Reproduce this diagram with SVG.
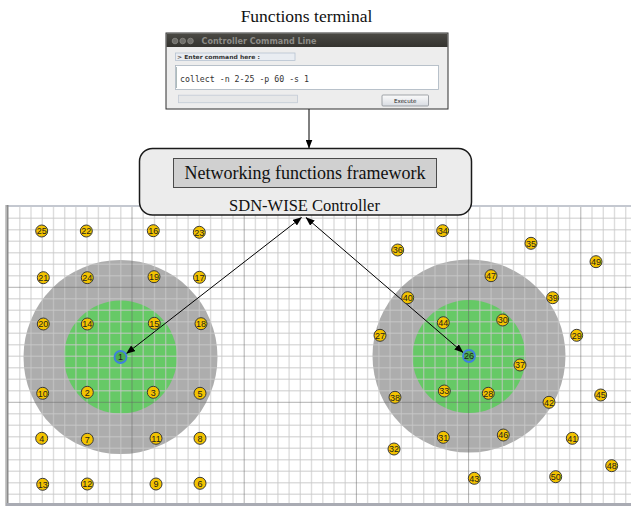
<svg xmlns="http://www.w3.org/2000/svg" width="631" height="508" viewBox="0 0 631 508">
<defs>
<marker id="ah" markerUnits="userSpaceOnUse" markerWidth="9" markerHeight="7" refX="8.5" refY="3.5" orient="auto-start-reverse">
<path d="M0,0 L9,3.5 L0,7 z" fill="#000"/>
</marker>
<linearGradient id="tb" x1="0" y1="0" x2="0" y2="1"><stop offset="0" stop-color="#4a4944"/><stop offset="1" stop-color="#34332f"/></linearGradient>
<linearGradient id="btn" x1="0" y1="0" x2="0" y2="1"><stop offset="0" stop-color="#fbfbfb"/><stop offset="1" stop-color="#d8dce2"/></linearGradient>
</defs>
<style>
.minor{stroke:rgba(200,200,200,0.62);stroke-width:1.4;fill:none}
.major{stroke:rgba(100,100,100,0.5);stroke-width:1;fill:none}
.sn circle{fill:#f3c300;stroke:#3a3a3a;stroke-width:1}
.sn text,.sink text{font-family:"Liberation Sans",Arial,sans-serif;font-size:9px;fill:#1e1e1e;text-anchor:middle}
.sink circle{fill:#4caf50;stroke:#3f7fe0;stroke-width:1.8}
.conn{stroke:#000;stroke-width:1;fill:none}
.serif{font-family:"Liberation Serif","Times New Roman",serif;fill:#111;text-anchor:middle}
</style>
<rect width="631" height="508" fill="#fff"/>

<!-- field frame -->
<g id="field">
<rect x="8" y="206" width="623" height="297" fill="#fff"/>
<circle cx="120.5" cy="357" r="97" fill="#adadad"/>
<circle cx="120.5" cy="357" r="56.5" fill="#66c966"/>
<circle cx="469" cy="356" r="96.5" fill="#adadad"/>
<circle cx="469" cy="356.5" r="56.5" fill="#66c966"/>
<path class="minor" d="M19.8 207V503M31 207V503M42.3 207V503M53.5 207V503M64.7 207V503M75.9 207V503M87.1 207V503M98.4 207V503M109.6 207V503M120.8 207V503M143.2 207V503M154.5 207V503M165.7 207V503M176.9 207V503M188.1 207V503M199.3 207V503M210.6 207V503M221.8 207V503M233 207V503M255.4 207V503M266.7 207V503M277.9 207V503M289.1 207V503M300.3 207V503M311.5 207V503M322.8 207V503M334 207V503M345.2 207V503M367.6 207V503M378.9 207V503M390.1 207V503M401.3 207V503M412.5 207V503M423.7 207V503M435 207V503M446.2 207V503M457.4 207V503M479.8 207V503M491.1 207V503M502.3 207V503M513.5 207V503M524.7 207V503M535.9 207V503M547.2 207V503M558.4 207V503M569.6 207V503M592 207V503M603.3 207V503M614.5 207V503M625.7 207V503"/>
<path class="minor" d="M8 218.3H631M8 229.8H631M8 241.3H631M8 252.8H631M8 264.3H631M8 275.8H631M8 298.8H631M8 310.3H631M8 321.8H631M8 333.3H631M8 344.8H631M8 356.3H631M8 367.8H631M8 379.3H631M8 390.8H631M8 413.8H631M8 425.3H631M8 436.8H631M8 448.3H631M8 459.8H631M8 471.3H631M8 482.8H631M8 494.3H631"/>
<path class="major" d="M132 207V503M244.2 207V503M356.4 207V503M468.6 207V503M580.8 207V503M8 287.3H631M8 402.3H631"/>
<rect x="6" y="205" width="625" height="2" fill="#c4c8d0"/>
<rect x="5" y="205" width="1.5" height="301" fill="#c8c8c8"/>
<rect x="6.5" y="205" width="2" height="301" fill="#8c8c8c"/>
<rect x="6" y="503" width="625" height="3" fill="#a9abb3"/>
</g>

<!-- connectors -->
<g id="connectors">
<line class="conn" x1="309" y1="109" x2="309" y2="148" marker-end="url(#ah)"/>
<line class="conn" x1="301.5" y1="217.5" x2="126.5" y2="353.5" marker-start="url(#ah)" marker-end="url(#ah)"/>
<line class="conn" x1="306" y1="217.5" x2="463" y2="352.5" marker-start="url(#ah)" marker-end="url(#ah)"/>
</g>

<!-- nodes -->
<g id="n1" class="sink"><circle cx="120.5" cy="357" r="6"/><text x="120.5" y="360.3">1</text></g>
<g id="n26" class="sink"><circle cx="469" cy="356" r="6"/><text x="469" y="359.3">26</text></g>
<g id="n25" class="sn"><circle cx="41.7" cy="231" r="6"/><text x="41.7" y="234.3">25</text></g>
<g id="n22" class="sn"><circle cx="86.3" cy="231" r="6"/><text x="86.3" y="234.3">22</text></g>
<g id="n16" class="sn"><circle cx="153.3" cy="230.7" r="6"/><text x="153.3" y="234">16</text></g>
<g id="n23" class="sn"><circle cx="199.3" cy="232.3" r="6"/><text x="199.3" y="235.6">23</text></g>
<g id="n21" class="sn"><circle cx="43.3" cy="277.7" r="6"/><text x="43.3" y="281">21</text></g>
<g id="n24" class="sn"><circle cx="87.3" cy="277.7" r="6"/><text x="87.3" y="281">24</text></g>
<g id="n19" class="sn"><circle cx="154" cy="276.7" r="6"/><text x="154" y="280">19</text></g>
<g id="n17" class="sn"><circle cx="199.5" cy="277.3" r="6"/><text x="199.5" y="280.6">17</text></g>
<g id="n20" class="sn"><circle cx="43.3" cy="324" r="6"/><text x="43.3" y="327.3">20</text></g>
<g id="n14" class="sn"><circle cx="87.3" cy="324" r="6"/><text x="87.3" y="327.3">14</text></g>
<g id="n15" class="sn"><circle cx="154.3" cy="323.3" r="6"/><text x="154.3" y="326.6">15</text></g>
<g id="n18" class="sn"><circle cx="201" cy="323.7" r="6"/><text x="201" y="327">18</text></g>
<g id="n10" class="sn"><circle cx="42.7" cy="393.3" r="6"/><text x="42.7" y="396.6">10</text></g>
<g id="n2" class="sn"><circle cx="87.3" cy="392.3" r="6"/><text x="87.3" y="395.6">2</text></g>
<g id="n3" class="sn"><circle cx="153.3" cy="392.3" r="6"/><text x="153.3" y="395.6">3</text></g>
<g id="n5" class="sn"><circle cx="200" cy="393.3" r="6"/><text x="200" y="396.6">5</text></g>
<g id="n4" class="sn"><circle cx="41.7" cy="438.3" r="6"/><text x="41.7" y="441.6">4</text></g>
<g id="n7" class="sn"><circle cx="87.3" cy="439.3" r="6"/><text x="87.3" y="442.6">7</text></g>
<g id="n11" class="sn"><circle cx="156" cy="438.3" r="6"/><text x="156" y="441.6">11</text></g>
<g id="n8" class="sn"><circle cx="200" cy="438.3" r="6"/><text x="200" y="441.6">8</text></g>
<g id="n13" class="sn"><circle cx="42.7" cy="484.3" r="6"/><text x="42.7" y="487.6">13</text></g>
<g id="n12" class="sn"><circle cx="87.3" cy="484" r="6"/><text x="87.3" y="487.3">12</text></g>
<g id="n9" class="sn"><circle cx="156" cy="484" r="6"/><text x="156" y="487.3">9</text></g>
<g id="n6" class="sn"><circle cx="200" cy="483.3" r="6"/><text x="200" y="486.6">6</text></g>
<g id="n34" class="sn"><circle cx="442.7" cy="230.7" r="6"/><text x="442.7" y="234">34</text></g>
<g id="n36" class="sn"><circle cx="397.7" cy="250" r="6"/><text x="397.7" y="253.3">36</text></g>
<g id="n35" class="sn"><circle cx="531" cy="243.3" r="6"/><text x="531" y="246.6">35</text></g>
<g id="n49" class="sn"><circle cx="596" cy="261.7" r="6"/><text x="596" y="265">49</text></g>
<g id="n47" class="sn"><circle cx="491" cy="275.7" r="6"/><text x="491" y="279">47</text></g>
<g id="n40" class="sn"><circle cx="407.7" cy="297.7" r="6"/><text x="407.7" y="301">40</text></g>
<g id="n39" class="sn"><circle cx="552.7" cy="297.7" r="6"/><text x="552.7" y="301">39</text></g>
<g id="n44" class="sn"><circle cx="443.3" cy="322.7" r="6"/><text x="443.3" y="326">44</text></g>
<g id="n30" class="sn"><circle cx="502.7" cy="320" r="6"/><text x="502.7" y="323.3">30</text></g>
<g id="n27" class="sn"><circle cx="380" cy="335.3" r="6"/><text x="380" y="338.6">27</text></g>
<g id="n29" class="sn"><circle cx="576.7" cy="335.3" r="6"/><text x="576.7" y="338.6">29</text></g>
<g id="n37" class="sn"><circle cx="520" cy="365" r="6"/><text x="520" y="368.3">37</text></g>
<g id="n33" class="sn"><circle cx="444.3" cy="391" r="6"/><text x="444.3" y="394.3">33</text></g>
<g id="n28" class="sn"><circle cx="488.3" cy="393.3" r="6"/><text x="488.3" y="396.6">28</text></g>
<g id="n38" class="sn"><circle cx="395" cy="397.3" r="6"/><text x="395" y="400.6">38</text></g>
<g id="n42" class="sn"><circle cx="549" cy="402.3" r="6"/><text x="549" y="405.6">42</text></g>
<g id="n45" class="sn"><circle cx="600.7" cy="395" r="6"/><text x="600.7" y="398.3">45</text></g>
<g id="n31" class="sn"><circle cx="443.3" cy="437.3" r="6"/><text x="443.3" y="440.6">31</text></g>
<g id="n46" class="sn"><circle cx="503.3" cy="435" r="6"/><text x="503.3" y="438.3">46</text></g>
<g id="n41" class="sn"><circle cx="572.3" cy="438.3" r="6"/><text x="572.3" y="441.6">41</text></g>
<g id="n32" class="sn"><circle cx="394" cy="449" r="6"/><text x="394" y="452.3">32</text></g>
<g id="n48" class="sn"><circle cx="611.7" cy="465.7" r="6"/><text x="611.7" y="469">48</text></g>
<g id="n43" class="sn"><circle cx="474.3" cy="478.3" r="6"/><text x="474.3" y="481.6">43</text></g>
<g id="n50" class="sn"><circle cx="555.7" cy="476.7" r="6"/><text x="555.7" y="480">50</text></g>

<!-- controller -->
<g id="controller">
<rect x="139.5" y="148.5" width="332" height="66.5" rx="13" fill="#ececec" stroke="#1a1a1a" stroke-width="1.5"/>
<rect x="173.5" y="158.5" width="263" height="29" fill="#d0d0d0" stroke="#4a4a4a" stroke-width="1"/>
<text class="serif" x="305" y="178.5" font-size="18">Networking functions framework</text>
<text class="serif" x="304.5" y="211" font-size="16.5">SDN-WISE Controller</text>
</g>

<!-- terminal -->
<g id="terminal">
<text class="serif" x="306.5" y="21.7" font-size="17.5">Functions terminal</text>
<rect x="166" y="33" width="282" height="76" fill="#ededed" stroke="#2e2e2e" stroke-width="1"/>
<rect x="166.5" y="33.5" width="281" height="13.5" fill="url(#tb)"/>
<circle cx="175" cy="41" r="2.8" fill="#6e6d69" stroke="#8a8984" stroke-width="0.8"/>
<circle cx="182.7" cy="41" r="2.8" fill="#6e6d69" stroke="#8a8984" stroke-width="0.8"/>
<circle cx="190.5" cy="41" r="2.8" fill="#6e6d69" stroke="#8a8984" stroke-width="0.8"/>
<text x="201.5" y="44" font-family="'DejaVu Sans',sans-serif" font-weight="bold" font-size="8.5" fill="#8d8c88" textLength="115" lengthAdjust="spacingAndGlyphs">Controller Command Line</text>
<rect x="175.5" y="53" width="119.5" height="7.5" fill="#e9edf2" stroke="#b7c3d1" stroke-width="0.8"/>
<text x="177" y="58.9" font-family="'DejaVu Sans',sans-serif" font-weight="bold" font-size="5.6" fill="#333" textLength="83" lengthAdjust="spacingAndGlyphs">&gt; Enter command here :</text>
<rect x="175.5" y="65.5" width="263" height="24" fill="#fff" stroke="#a9b3bf" stroke-width="0.8"/>
<line x1="176.5" y1="67" x2="176.5" y2="88" stroke="#9aa" stroke-width="0.8"/>
<text x="180" y="81.5" font-family="'DejaVu Sans Mono',monospace" font-size="8.3" fill="#333" textLength="129" lengthAdjust="spacingAndGlyphs">collect -n 2-25 -p 60 -s 1</text>
<rect x="178.5" y="95.2" width="119" height="7.5" fill="#e6e7e8" stroke="#c2cad5" stroke-width="0.8"/>
<rect x="382" y="95" width="46.5" height="11" rx="1" fill="url(#btn)" stroke="#8a8f96" stroke-width="0.8"/>
<text x="405.2" y="102.8" font-family="'DejaVu Sans',sans-serif" font-size="5.6" fill="#222" text-anchor="middle">Execute</text>
</g>
</svg>
